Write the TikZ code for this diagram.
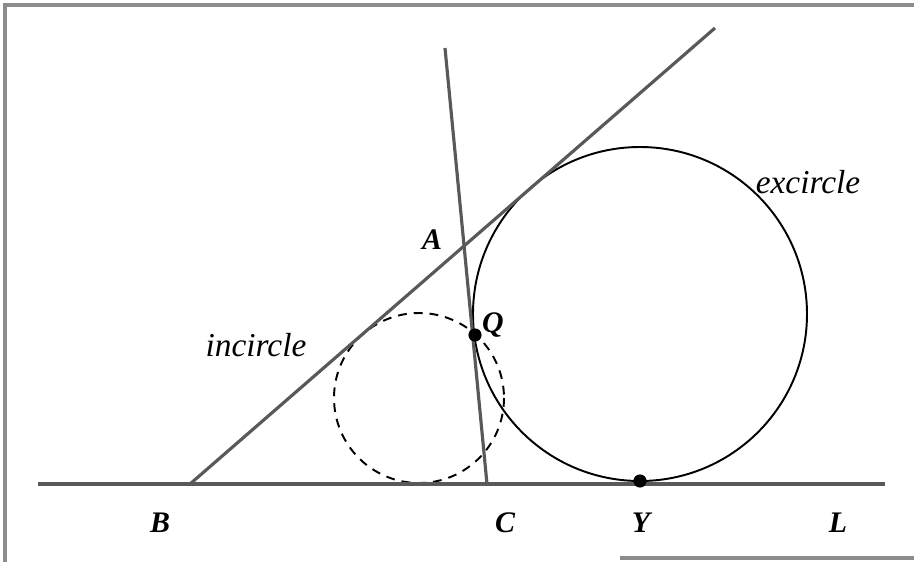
\documentclass[tikz,border=0pt]{standalone}
\usepackage{fontspec}
\setmainfont{Liberation Serif}
\usepackage{tikz}
\usepackage{xcolor}

\begin{document}
\begin{tikzpicture}[x=0.02cm,y=-0.02cm,
  side/.style={draw=black!65,line width=1.8pt},
  circ/.style={draw=black,line width=1.1pt},
  pt/.style={fill=black,circle,inner sep=0pt,minimum size=7.5pt},
  lab/.style={font=\fontsize{17}{17}\selectfont\bfseries\itshape},
  word/.style={font=\fontsize{19}{19}\selectfont\itshape}]
  \useasboundingbox (0,0) rectangle (914,562);
  \draw[black!45,line width=2pt] (5,562) -- (5,5) -- (914,5); \draw[black!45,line width=2pt] (620,558) -- (914,558);
  % points
  \coordinate (l0) at (38,484); \coordinate (l1) at (885,484);
  \coordinate (B) at (190,484); \coordinate (P) at (715,28);
  \coordinate (T) at (445,48); \coordinate (C) at (487,484);
  % circles
  \draw[circ,dashed,dash pattern=on 5pt off 4pt] (419,398) circle (85);
  \draw[circ] (640,314) circle (167);
  % lines
  \draw[side] (l0) -- (l1); \draw[side] (B) -- (P); \draw[side] (T) -- (C);
  \node[pt] (Q) at (475,335) {}; \node[pt] (Y) at (640,481) {};
  % labels
  \node[lab] (a) at (432,240) {A}; \node[lab] (q) at (493,325) {Q};
  \node[lab] (b) at (160,523) {B}; \node[lab] (c) at (505,523) {C}; \node[lab] (y) at (641,523) {Y}; \node[lab] (l) at (838,523) {L};
  \node[word] (ic) at (256,345) {incircle}; \node[word] (ec) at (808,182) {excircle};
\end{tikzpicture}
\end{document}
